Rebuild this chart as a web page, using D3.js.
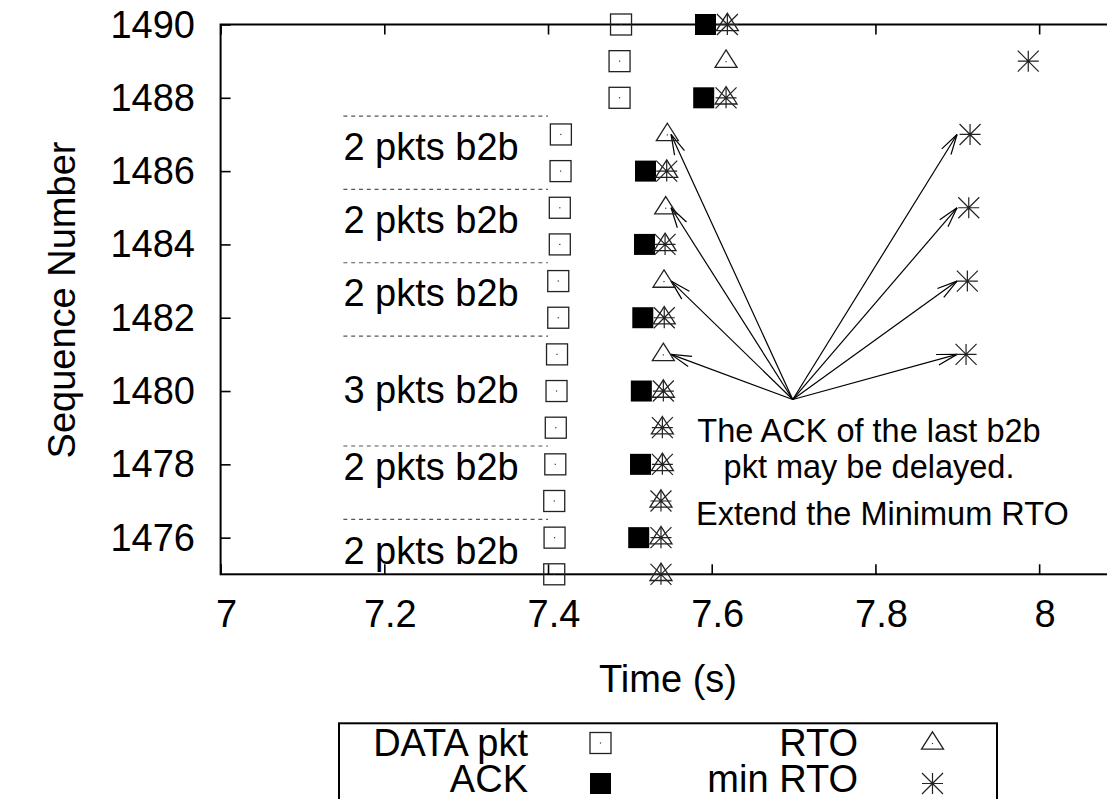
<!DOCTYPE html>
<html>
<head>
<meta charset="utf-8">
<script src="https://cdn.jsdelivr.net/npm/d3@7"></script>
<style>
  html, body { margin: 0; padding: 0; background: #fff; }
  svg text { font-family: "Liberation Sans", Arial, sans-serif; fill: #000; }
</style>
</head>
<body>
<script>
// ---- data -------------------------------------------------------------
const xTicks = [7, 7.2, 7.4, 7.6, 7.8, 8];
const xTickLabels = ["7", "7.2", "7.4", "7.6", "7.8", "8"];
const yTicks = [1476, 1478, 1480, 1482, 1484, 1486, 1488, 1490];

// DATA packets (sequence, send time)
const dataSeq  = [1475, 1476, 1477, 1478, 1479, 1480, 1481, 1482, 1483, 1484, 1485, 1486, 1487, 1488, 1489, 1490];
const dataTime = [7.4076, 7.4080, 7.4076, 7.4089, 7.4095, 7.4104, 7.4110, 7.4125, 7.4125, 7.4144, 7.4144, 7.4153, 7.4157, 7.4874, 7.4874, 7.4892];

// ACKs
const ackSeq  = [1476, 1478, 1480, 1482, 1484, 1486, 1488, 1490];
const ackTime = [7.5108, 7.5130, 7.5140, 7.5158, 7.5179, 7.5191, 7.5902, 7.5924];

// RTO deadlines
const rtoSeq  = [1475, 1476, 1477, 1478, 1479, 1480, 1481, 1482, 1483, 1484, 1485, 1486, 1487, 1488, 1489, 1490];
const rtoTime = [7.5380, 7.5380, 7.5380, 7.5397, 7.5397, 7.5409, 7.5409, 7.5420, 7.5417, 7.5430, 7.5438, 7.5450, 7.5458, 7.6175, 7.6175, 7.6191];

// minimum-RTO deadlines
const minRtoSeq  = [1475, 1476, 1477, 1478, 1479, 1480, 1481, 1482, 1483, 1484, 1485, 1486, 1487, 1488, 1489, 1490];
const minRtoTime = [7.5380, 7.5380, 7.5380, 7.5397, 7.5397, 7.5409, 7.9107, 7.5420, 7.9123, 7.5430, 7.9140, 7.5450, 7.9156, 7.6175, 7.9867, 7.6191];

// back-to-back groups: separators and labels
const groupSeparators = [1476.5, 1478.5, 1481.5, 1483.5, 1485.5, 1487.5];
const groupLabelSeq   = [1475.45, 1477.75, 1479.85, 1482.48, 1484.48, 1486.48];
const groupLabelText  = ["2 pkts b2b", "2 pkts b2b", "3 pkts b2b", "2 pkts b2b", "2 pkts b2b", "2 pkts b2b"];
const groupSpan = [7.15, 7.4];

// annotation arrows: common origin, targets on RTO and extended min RTO
const arrowOrigin = [7.699, 1479.77];
const arrowSeq = [1481, 1483, 1485, 1487];
const arrowRtoTime = [7.5503, 7.5503, 7.5503, 7.5503];
const arrowMinRtoTime = [7.8997, 7.8997, 7.8997, 7.8997];

// ---- layout -----------------------------------------------------------
const W = 1107, H = 799;
const FONT = 38;
const svg = d3.select("body").append("svg").attr("width", W).attr("height", H);

const x = d3.scaleLinear().domain([7, 8.1]).range([220.6, 1121]);
const y = d3.scaleLinear().domain([1475, 1490]).range([574.3, 24.5]);

// ---- frame ------------------------------------------------------------
const frame = svg.append("g");
frame.append("rect")
  .attr("x", x(7)).attr("y", y(1490))
  .attr("width", x(8.1) - x(7)).attr("height", y(1475) - y(1490))
  .attr("fill", "none").attr("stroke", "#000").attr("stroke-width", 2);

// inward ticks, mirrored on the top border
const xAxisB = d3.axisBottom(x).tickValues(xTicks).tickSize(-10).tickFormat("");
const xAxisT = d3.axisTop(x).tickValues(xTicks).tickSize(-10).tickFormat("");
const yAxisL = d3.axisLeft(y).tickValues(yTicks).tickSize(-10).tickFormat("");
[[xAxisB, `translate(0,${y(1475)})`], [xAxisT, `translate(0,${y(1490)})`], [yAxisL, `translate(${x(7)},0)`]]
  .forEach(([ax, tr]) => {
    const g = frame.append("g").attr("transform", tr).call(ax);
    g.select(".domain").remove();
    g.selectAll("line").attr("stroke", "#000").attr("stroke-width", 1.6);
  });

// tick labels
frame.selectAll("text.xt").data(xTicks).join("text")
  .attr("class", "xt")
  .attr("x", d => x(d) + 6).attr("y", 627)
  .attr("text-anchor", "middle").attr("font-size", FONT)
  .text((d, i) => xTickLabels[i]);
frame.selectAll("text.yt").data(yTicks).join("text")
  .attr("class", "yt")
  .attr("x", 195).attr("y", d => y(d) + 13)
  .attr("text-anchor", "end").attr("font-size", FONT)
  .text(d => d);

// axis titles
svg.append("text").attr("x", 668).attr("y", 692)
  .attr("text-anchor", "middle").attr("font-size", FONT).text("Time (s)");
svg.append("text")
  .attr("transform", `translate(75,${300}) rotate(-90)`)
  .attr("text-anchor", "middle").attr("font-size", FONT).text("Sequence Number");

// ---- group separators and labels ---------------------------------------
svg.selectAll("line.sep").data(groupSeparators).join("line")
  .attr("class", "sep")
  .attr("x1", x(groupSpan[0])).attr("x2", x(groupSpan[1]))
  .attr("y1", d => y(d)).attr("y2", d => y(d))
  .attr("stroke", "#555").attr("stroke-width", 1.2)
  .attr("stroke-dasharray", "4,3.8");
svg.selectAll("text.grp").data(groupLabelSeq).join("text")
  .attr("class", "grp")
  .attr("x", x(groupSpan[0])).attr("y", d => y(d) + 6)
  .attr("font-size", FONT)
  .text((d, i) => groupLabelText[i]);

// ---- annotation --------------------------------------------------------
const note = svg.append("g").attr("font-size", 32.5);
note.append("text").attr("x", 869).attr("y", 441.5).attr("text-anchor", "middle").text("The ACK of the last b2b");
note.append("text").attr("x", 869).attr("y", 478).attr("text-anchor", "middle").text("pkt may be delayed.");
note.append("text").attr("x", 696).attr("y", 525).text("Extend the Minimum RTO");

// arrows with open heads
const arrows = [];
arrowSeq.forEach((s, i) => {
  arrows.push([arrowRtoTime[i], s]);
  arrows.push([arrowMinRtoTime[i], s]);
});
const arrowG = svg.append("g").attr("stroke", "#000").attr("stroke-width", 1.2).attr("fill", "none");
arrows.forEach(([t, s]) => {
  const x0 = x(arrowOrigin[0]), y0 = y(arrowOrigin[1]);
  const x1 = x(t), y1 = y(s);
  const ang = Math.atan2(y1 - y0, x1 - x0);
  const len = 21, spread = 15 * Math.PI / 180;
  arrowG.append("line").attr("x1", x0).attr("y1", y0).attr("x2", x1).attr("y2", y1);
  [ang + spread, ang - spread].forEach(a => {
    arrowG.append("line")
      .attr("x1", x1).attr("y1", y1)
      .attr("x2", x1 - len * Math.cos(a)).attr("y2", y1 - len * Math.sin(a));
  });
});

// ---- point symbols -----------------------------------------------------
const S = 10.5;
function drawBox(g, cx, cy) {
  g.append("rect").attr("x", cx - S).attr("y", cy - S).attr("width", 2 * S).attr("height", 2 * S)
    .attr("fill", "none").attr("stroke", "#222").attr("stroke-width", 1.3);
  g.append("rect").attr("x", cx - 0.6).attr("y", cy - 0.6).attr("width", 1.2).attr("height", 1.2).attr("fill", "#333");
}
function drawFilled(g, cx, cy) {
  g.append("rect").attr("x", cx - S).attr("y", cy - S).attr("width", 2 * S).attr("height", 2 * S).attr("fill", "#000");
}
function drawTriangle(g, cx, cy) {
  g.append("path")
    .attr("d", `M${cx},${cy - 11.2}L${cx + 11},${cy + 6.2}L${cx - 11},${cy + 6.2}Z`)
    .attr("fill", "none").attr("stroke", "#222").attr("stroke-width", 1.3);
  g.append("rect").attr("x", cx - 0.6).attr("y", cy - 0.1).attr("width", 1.2).attr("height", 1.2).attr("fill", "#333");
}
function drawStar(g, cx, cy) {
  g.append("path")
    .attr("d", `M${cx - S},${cy}H${cx + S}M${cx},${cy - S}V${cy + S}` +
               `M${cx - S},${cy - S}L${cx + S},${cy + S}M${cx - S},${cy + S}L${cx + S},${cy - S}`)
    .attr("fill", "none").attr("stroke", "#222").attr("stroke-width", 1.2);
}

const pts = svg.append("g");
dataSeq.forEach((s, i) => drawBox(pts, x(dataTime[i]), y(s)));
ackSeq.forEach((s, i) => drawFilled(pts, x(ackTime[i]), y(s)));
rtoSeq.forEach((s, i) => drawTriangle(pts, x(rtoTime[i]), y(s)));
minRtoSeq.forEach((s, i) => drawStar(pts, x(minRtoTime[i]), y(s)));

// ---- legend ------------------------------------------------------------
const leg = svg.append("g");
leg.append("rect").attr("x", 339).attr("y", 723.3).attr("width", 658).attr("height", 120)
  .attr("fill", "none").attr("stroke", "#000").attr("stroke-width", 2);
const legendRows = [
  { label: "DATA pkt", draw: drawBox, col: 0, row: 0 },
  { label: "ACK", draw: drawFilled, col: 0, row: 1 },
  { label: "RTO", draw: drawTriangle, col: 1, row: 0 },
  { label: "min RTO", draw: drawStar, col: 1, row: 1 }
];
const colTextX = [528, 858], colSymX = [600.5, 932.5], rowY = [743, 783.5], rowBase = [755.5, 792];
legendRows.forEach(r => {
  leg.append("text").attr("x", colTextX[r.col]).attr("y", rowBase[r.row])
    .attr("text-anchor", "end").attr("font-size", FONT).text(r.label);
  r.draw(leg, colSymX[r.col], rowY[r.row]);
});
</script>
</body>
</html>
